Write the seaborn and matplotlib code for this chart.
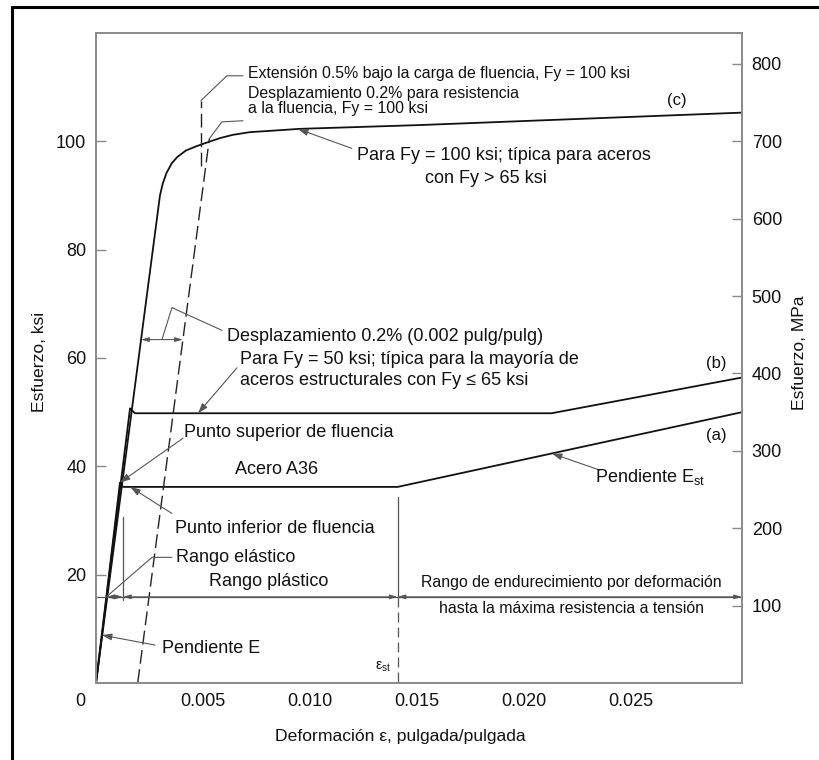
import matplotlib

matplotlib.use("Agg")

import matplotlib.pyplot as plt
import numpy as np
import seaborn as sns
from matplotlib.lines import Line2D

# Stress-strain curves: strain (in/in) and stress (ksi).
eps_a36 = [0.0, 0.00112, 0.00126, 0.0141, 0.0302]
ksi_a36 = [0.0, 37.0, 36.2, 36.2, 50.0]

eps_b = [0.0, 0.00159, 0.00182, 0.0213, 0.0302]
ksi_b = [0.0, 50.7, 49.8, 49.8, 56.4]

eps_c = [0.0, 0.00299, 0.00312, 0.0033, 0.00355, 0.0038, 0.0042, 0.0047,
         0.0052, 0.0058, 0.0064, 0.0072, 0.0080, 0.0095, 0.0151, 0.0302]
ksi_c = [0.0, 90.0, 92.2, 94.2, 96.0, 97.1, 98.3, 99.1,
         99.8, 100.6, 101.2, 101.7, 101.9, 102.3, 103.0, 105.3]

# 0.2% offset line and 0.5% extension line for Fy = 100 ksi
eps_offset = [0.00195, 0.00530]
ksi_offset = [0.0, 100.5]
eps_ext = [0.0049, 0.0049]
ksi_ext = [95.5, 107.5]

eps_st = 0.0141          # start of strain hardening
eps_yield_a36 = 0.00126  # end of elastic range
ksi_range = 15.9         # level of the range dimension line
ksi_offset_dim = 63.4    # level of the 0.2% dimension

eps_max = 0.0302
ksi_max = 120
mpa_per_ksi = 7.0

eps_ticks = [0.005, 0.010, 0.015, 0.020, 0.025]
eps_ticklabels = ["0.005", "0.010", "0.015", "0.020", "0.025"]
ksi_ticks = [20, 40, 60, 80, 100]
mpa_ticks = [100, 200, 300, 400, 500, 600, 700, 800]

W, H = 820, 760
sns.set_theme(style="white")
plt.rcParams["font.family"] = ["Liberation Sans", "DejaVu Sans"]
plt.rcParams["mathtext.default"] = "regular"

fig = plt.figure(figsize=(W / 100, H / 100), dpi=100)
ax = fig.add_axes([96 / W, (H - 683) / H, 646 / W, 650 / H])
ax2 = ax.twinx()

INK = "#111111"
GRAY = "#555555"
SPINE = "#8a8a8a"
BIG = 13
SMALL = 11.4

for xs, ys in [(eps_a36, ksi_a36), (eps_b, ksi_b), (eps_c, ksi_c)]:
    sns.lineplot(x=xs, y=ys, ax=ax, sort=False, estimator=None, color=INK, lw=1.3)

ax.plot(eps_offset, ksi_offset, color="#222222", lw=1.0, dashes=(10, 4))
ax.plot(eps_ext, ksi_ext, color="#222222", lw=1.0, dashes=(10, 4))

# strain hardening marker
ax.plot([eps_st, eps_st], [34.3, ksi_range], color=GRAY, lw=0.9)
ax.plot([eps_st, eps_st], [ksi_range, 0], color=GRAY, lw=0.9, dashes=(8, 4))
ax.plot([eps_yield_a36, eps_yield_a36], [ksi_range - 0.6, 30.6], color=GRAY, lw=0.9)

# range dimension line
ax.plot([0, eps_max], [ksi_range, ksi_range], color=GRAY, lw=0.9, clip_on=False)
eps_el_range = np.interp(ksi_range, ksi_a36[:2], eps_a36[:2])
dim_kw = dict(arrowstyle="<|-|>,head_length=0.45,head_width=0.13", lw=0.8,
              color=GRAY, shrinkA=0, shrinkB=0, mutation_scale=10)
for x1, x2 in [(eps_el_range, eps_yield_a36), (eps_yield_a36, eps_st), (eps_st, eps_max)]:
    ax.annotate("", xy=(x2, ksi_range), xytext=(x1, ksi_range), arrowprops=dim_kw)

# 0.2% offset dimension
e1 = np.interp(ksi_offset_dim, ksi_c[:2], eps_c[:2])
e2 = np.interp(ksi_offset_dim, ksi_offset, eps_offset)
ax.annotate("", xy=(e2, ksi_offset_dim), xytext=(e1, ksi_offset_dim), arrowprops=dim_kw)
ax.plot([0.00589, 0.00355, (e1 + e2) / 2], [65.1, 69.3, ksi_offset_dim], color=GRAY, lw=0.8)
ax.text(0.00612, 64.0, "Desplazamiento 0.2% (0.002 pulg/pulg)", fontsize=BIG, va="center", color=INK)

# top annotations
ax.plot([eps_ext[1], 0.00612, 0.00687], [ksi_ext[1], 112.1, 112.1], color=GRAY, lw=0.8)
ax.text(0.0071, 112.6, "Extensión 0.5% bajo la carga de fluencia, Fy = 100 ksi",
        fontsize=SMALL, va="center", color=INK)
ax.plot([eps_offset[1], 0.00589, 0.00687], [ksi_offset[1], 103.6, 103.8], color=GRAY, lw=0.8)
ax.text(0.0071, 107.45, "Desplazamiento 0.2% para resistencia\na la fluencia, Fy = 100 ksi",
        fontsize=SMALL, va="center", color=INK, linespacing=1.0)

arrow_kw = dict(arrowstyle="-|>,head_length=0.6,head_width=0.2", lw=0.8, color=GRAY,
                shrinkA=0, shrinkB=0, mutation_scale=10)

tip = 0.00944
ax.annotate("", xy=(tip, np.interp(tip, eps_c, ksi_c)), xytext=(0.01196, 98.7), arrowprops=arrow_kw)
ax.text(0.0122, 97.3, "Para Fy = 100 ksi; típica para aceros", fontsize=BIG, va="center", color=INK)
ax.text(0.0154, 93.2, "con Fy > 65 ksi", fontsize=BIG, va="center", color=INK)
ax.text(0.02715, 107.5, "(c)", fontsize=12, ha="center", va="center", color=INK)

ax.annotate("", xy=(0.00477, ksi_b[2]), xytext=(0.00659, 58.2), arrowprops=arrow_kw)
ax.text(0.00673, 59.7, "Para Fy = 50 ksi; típica para la mayoría de", fontsize=BIG, va="center", color=INK)
ax.text(0.00673, 55.9, "aceros estructurales con Fy ≤ 65 ksi", fontsize=BIG, va="center", color=INK)
ax.text(0.0290, 59.0, "(b)", fontsize=12, ha="center", va="center", color=INK)
ax.text(0.0290, 45.7, "(a)", fontsize=12, ha="center", va="center", color=INK)

ax.annotate("", xy=(eps_a36[1], ksi_a36[1]), xytext=(0.00407, 45.2), arrowprops=arrow_kw)
ax.text(0.00411, 46.3, "Punto superior de fluencia", fontsize=BIG, va="center", color=INK)
ax.text(0.0065, 39.4, "Acero A36", fontsize=BIG, va="center", color=INK)

ax.annotate("", xy=(0.0016, ksi_a36[2]), xytext=(0.00355, 31.3), arrowprops=arrow_kw)
ax.text(0.00369, 28.6, "Punto inferior de fluencia", fontsize=BIG, va="center", color=INK)

ax.plot([0.00355, 0.00262, eps_el_range], [23.2, 23.2, ksi_range], color=GRAY, lw=0.8)
ax.text(0.00374, 23.2, "Rango elástico", fontsize=BIG, va="center", color=INK)
ax.text(0.00808, 18.8, "Rango plástico", fontsize=BIG, ha="center", va="center", color=INK)
ax.text(0.02224, 18.6, "Rango de endurecimiento por deformación", fontsize=SMALL,
        ha="center", va="center", color=INK)
ax.text(0.02224, 13.8, "hasta la máxima resistencia a tensión", fontsize=SMALL,
        ha="center", va="center", color=INK)

ksi_e = 8.85
ax.annotate("", xy=(np.interp(ksi_e, ksi_a36[:2], eps_a36[:2]), ksi_e), xytext=(0.00276, 7.0),
            arrowprops=arrow_kw)
ax.text(0.00308, 6.45, "Pendiente E", fontsize=BIG, va="center", color=INK)
ax.text(0.01341, 2.95, "ε$_{st}$", fontsize=10, ha="center", va="center", color=INK)

tip = 0.02131
ax.annotate("", xy=(tip, np.interp(tip, eps_a36, ksi_a36)), xytext=(0.02355, 39.3), arrowprops=arrow_kw)
ax.text(0.02332, 38.0, "Pendiente E$_{st}$", fontsize=BIG, va="center", color=INK)

# axes styling
ax.set_xlim(0, eps_max)
ax.set_ylim(0, ksi_max)
ax2.set_ylim(0, ksi_max * mpa_per_ksi)
ax.set_xticks(eps_ticks, eps_ticklabels)
ax.set_yticks(ksi_ticks)
ax2.set_yticks(mpa_ticks)
for a in (ax, ax2):
    for s in a.spines.values():
        s.set_color(SPINE)
        s.set_linewidth(1.2)
    a.tick_params(direction="in", length=7, width=1, color=SPINE, labelsize=13,
                  labelcolor=INK, pad=7)
ax.set_xlabel("")
ax.set_ylabel("")
ax.annotate("0", xy=(0, 0), xytext=(-11.5, -13.5), textcoords="offset points",
            fontsize=13, ha="center", va="center", color=INK)

fig.text(40 / W, 1 - 362 / H, "Esfuerzo, ksi", rotation=90, fontsize=12.6,
         ha="center", va="center", color=INK)
fig.text(800 / W, 1 - 353 / H, "Esfuerzo, MPa", rotation=90, fontsize=12.6,
         ha="center", va="center", color=INK)
fig.text(400 / W, 1 - 737 / H, "Deformación ε, pulgada/pulgada", fontsize=12.6,
         ha="center", va="center", color=INK)

# frame of the original drawing (top and left edges visible)
fig.add_artist(Line2D([12 / W, 1.0], [1 - 7 / H] * 2, transform=fig.transFigure, color="black", lw=2.2))
fig.add_artist(Line2D([12 / W] * 2, [0.0, 1 - 7 / H], transform=fig.transFigure, color="black", lw=2.2))

fig.savefig("out.png", dpi=100)
plt.close(fig)
